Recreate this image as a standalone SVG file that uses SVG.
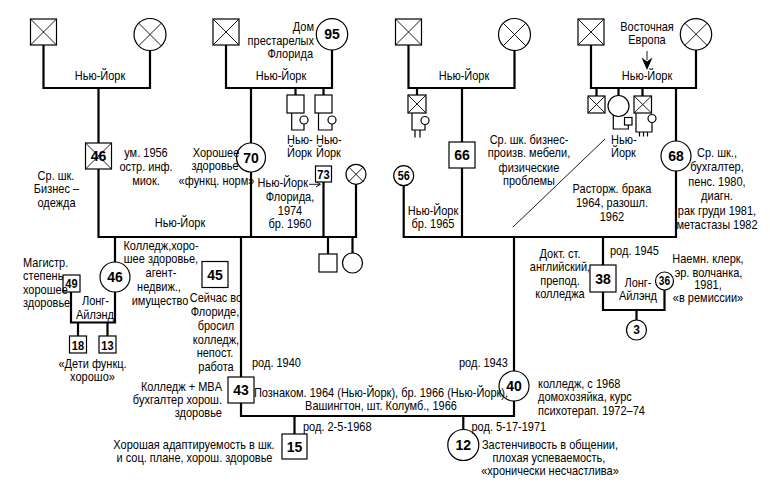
<svg xmlns="http://www.w3.org/2000/svg" width="770" height="483" viewBox="0 0 770 483">
<style>
.l{stroke:#000;stroke-width:2.2;fill:none;stroke-linecap:square}
.f{stroke:#000;stroke-width:1.2;fill:none}
.s{stroke:#000;stroke-width:1.2;fill:#fff}
.x{stroke:#000;stroke-width:0.9;fill:none}
text{font-family:"Liberation Sans",Arial,sans-serif;font-size:12.5px;fill:#000}
.m{text-anchor:middle}
.e{text-anchor:end}
.n{font-weight:bold;font-size:14px;text-anchor:middle}
.ns{font-weight:bold;font-size:13.5px;text-anchor:middle}
.nc{font-weight:bold;font-size:12px;text-anchor:middle}
</style>
<rect width="770" height="483" fill="#fff"/>
<g id="connectors">
<path class="l" d="M43.5,45V88H150V50.5M98.5,88V143M98.5,169V237H356M251,88V143M251,172V237"/>
<path class="l" d="M226,45V88H332V50M295.5,88V95M323.5,88V95M323.5,182V237M356,184.3V237M328,237V254M352.5,237V253"/>
<path class="l" d="M115,237V262M115,292V322.5H71V292M78,322.5V336M107.5,322.5V336"/>
<path class="l" d="M241,237V377M241,403V416H514V401M514,237V371M294.5,416V434M463.3,416V429.5"/>
<path class="l" d="M408.5,45V88H514.5V50.5M417,88V95M462,88V142M462,168V237M403.7,186V237H676M676,88V141M676,171V237"/>
<path class="l" d="M591,45V88H696V50M596.5,88V96M618.5,88V95.5M642.5,88V96M603,237V265M603,292V310H664.5V290M636.5,310V320"/>
<path class="f" d="M291.7,113V130H304V124M318.5,113V130H332V124M412,113V130H425V124.5M415,130V137.5M420,130V137.5M613.3,115V129H628.3V125M636,113V132H652V122.5M639.5,132V136.5M643.5,132V136.5M647.5,132V136.5"/>
<path class="x" d="M513,227L605,139"/>
<path class="x" d="M309,184.3H320M316,181.5L320.5,184.3L316,187"/>
<path class="x" d="M647,51V60"/>
<polygon points="641.5,57.5 647,70 652.5,57.5 647,61.5" fill="#000"/>
</g>
<g id="n-p1f"><rect class="s" x="30.5" y="19" width="26" height="26"/><path class="x" d="M30.5,19L56.5,45M56.5,19L30.5,45"/></g>
<g id="n-p1m"><circle class="s" cx="150" cy="34.5" r="16"/><path class="x" d="M138.7,23.2L161.3,45.8M161.3,23.2L138.7,45.8"/></g>
<g id="n-p2f"><rect class="s" x="213" y="19" width="26" height="26"/><path class="x" d="M213,19L239,45M239,19L213,45"/></g>
<g id="n-95"><circle class="s" cx="332" cy="34.3" r="15.7"/><text class="n" x="332" y="39.3">95</text></g>
<g id="n-p3f"><rect class="s" x="395.5" y="19" width="26" height="26"/><path class="x" d="M395.5,19L421.5,45M421.5,19L395.5,45"/></g>
<g id="n-p3m"><circle class="s" cx="514.5" cy="34.5" r="16"/><path class="x" d="M503.2,23.2L525.8,45.8M525.8,23.2L503.2,45.8"/></g>
<g id="n-p4f"><rect class="s" x="578" y="19" width="26" height="26"/><path class="x" d="M578,19L604,45M604,19L578,45"/></g>
<g id="n-p4m"><circle class="s" cx="696" cy="34.3" r="15.7"/><path class="x" d="M684.9,23.2L707.1,45.4M707.1,23.2L684.9,45.4"/></g>
<g id="n-46f"><rect class="s" x="85.5" y="143" width="26" height="26"/><path class="x" d="M85.5,143L111.5,169M111.5,143L85.5,169"/><text class="n" x="98.5" y="161">46</text></g>
<g id="n-70"><circle class="s" cx="251" cy="157.5" r="14.5"/><text class="n" x="251" y="162.5">70</text></g>
<g id="n-sib1"><rect class="s" x="287" y="95" width="17" height="18"/><circle class="s" cx="304" cy="120" r="4"/></g>
<g id="n-sib2"><rect class="s" x="315" y="95" width="17" height="18"/><circle class="s" cx="332" cy="120" r="4"/></g>
<g id="n-73"><rect class="s" x="315.5" y="166" width="16" height="16"/><text class="ns" transform="translate(323.5,179) scale(0.82,1)">73</text></g>
<g id="n-73w"><circle class="s" cx="356" cy="174.3" r="10"/><path class="x" d="M348.9,167.2L363.1,181.4M363.1,167.2L348.9,181.4"/></g>
<g id="n-sib3"><rect class="s" x="408" y="95" width="18" height="18"/><path class="x" d="M408,95L426,113M426,95L408,113"/><circle class="s" cx="425" cy="120.5" r="4"/></g>
<g id="n-66"><rect class="s" x="449" y="142" width="26" height="26"/><text class="n" x="462" y="160">66</text></g>
<g id="n-56"><circle class="s" cx="403.7" cy="175.7" r="10"/><text class="nc" transform="translate(403.7,180) scale(0.9,1)">56</text></g>
<g id="n-68"><circle class="s" cx="676" cy="156" r="15"/><text class="n" x="676" y="161">68</text></g>
<g id="n-sib4a"><rect class="s" x="588" y="96" width="17" height="17"/><path class="x" d="M588,96L605,113M605,96L588,113"/></g>
<g id="n-sib4b"><circle class="s" cx="618.5" cy="106" r="10.5"/><rect class="s" x="624.5" y="117.5" width="7.5" height="7.5"/></g>
<g id="n-sib4c"><rect class="s" x="634" y="96" width="17.5" height="17"/><path class="x" d="M634,96L651.5,113M651.5,96L634,113"/><circle class="s" cx="652" cy="118.5" r="4"/></g>
<g id="n-46m"><circle class="s" cx="115" cy="277" r="15"/><text class="n" x="115" y="282">46</text></g>
<g id="n-49"><rect class="s" x="63" y="275" width="17" height="17"/><text class="ns" transform="translate(71.5,288) scale(0.82,1)">49</text></g>
<g id="n-45"><rect class="s" x="202" y="261.5" width="26" height="26"/><text class="n" x="215" y="279.5">45</text></g>
<g id="n-43"><rect class="s" x="228" y="377" width="26" height="26"/><text class="n" x="241" y="395">43</text></g>
<g id="n-40"><circle class="s" cx="514" cy="386" r="15"/><text class="n" x="514" y="391">40</text></g>
<g id="n-73s"><rect class="s" x="319" y="254" width="18" height="18"/></g>
<g id="n-73d"><circle class="s" cx="352.5" cy="263" r="10"/></g>
<g id="n-38"><rect class="s" x="590" y="265" width="26" height="27"/><text class="n" x="603" y="283.5">38</text></g>
<g id="n-36"><circle class="s" cx="664.5" cy="281" r="9"/><text class="nc" transform="translate(664.5,285.3) scale(0.85,1)">36</text></g>
<g id="n-18"><rect class="s" x="69.5" y="336" width="17" height="17"/><text class="ns" transform="translate(78,349.5) scale(0.82,1)">18</text></g>
<g id="n-13"><rect class="s" x="99" y="336" width="17" height="17"/><text class="ns" transform="translate(107.5,349.5) scale(0.82,1)">13</text></g>
<g id="n-15"><rect class="s" x="282" y="434" width="25" height="25"/><text class="n" x="294.5" y="451.5">15</text></g>
<g id="n-12"><circle class="s" cx="463.3" cy="445" r="15.5"/><text class="n" x="463.3" y="450">12</text></g>
<g id="n-3"><circle class="s" cx="636.5" cy="330" r="10"/><text class="nc" x="636.5" y="334.3">3</text></g>
<g id="labels" transform="scale(0.88,1)">
<text class="m" x="113.64" y="80">Нью-Йорк</text>
<text class="m" x="319.32" y="80">Нью-Йорк</text>
<text class="e" x="356.82" y="31.5">Дом</text>
<text class="e" x="356.82" y="45">престарелых</text>
<text class="e" x="355.68" y="58.5">Флорида</text>
<text class="m" x="527.27" y="80">Нью-Йорк</text>
<text class="m" x="735.23" y="31">Восточная</text>
<text class="m" x="735.23" y="44">Европа</text>
<text class="m" x="735.23" y="80">Нью-Йорк</text>
<text class="m" x="165.91" y="157">ум. 1956</text>
<text class="m" x="165.91" y="171">остр. инф.</text>
<text class="m" x="165.91" y="185">миок.</text>
<text class="m" x="63.64" y="180">Ср. шк.</text>
<text class="m" x="64.2" y="193">Бизнес –</text>
<text class="m" x="64.2" y="207">одежда</text>
<text class="m" x="245.45" y="157">Хорошее</text>
<text class="m" x="244.32" y="170.5">здоровье</text>
<text class="m" x="246.02" y="185">«функц. норм»</text>
<text class="m" x="204.55" y="227">Нью-Йорк</text>
<text x="326.14" y="144">Нью-</text>
<text x="326.14" y="157.5">Йорк</text>
<text x="359.09" y="144">Нью-</text>
<text x="359.09" y="157.5">Йорк</text>
<text class="e" x="350" y="187">Нью-Йорк</text>
<text class="m" x="329.55" y="201.5">Флорида,</text>
<text class="m" x="329.55" y="215">1974</text>
<text class="m" x="329.55" y="228.5">бр. 1960</text>
<text class="m" x="492.05" y="215">Нью-Йорк</text>
<text class="m" x="492.05" y="228.5">бр. 1965</text>
<text class="m" x="601.14" y="144">Ср. шк. бизнес-</text>
<text class="m" x="601.14" y="157.5">произв. мебели,</text>
<text class="m" x="601.14" y="172">физические</text>
<text class="m" x="601.14" y="185">проблемы</text>
<text x="694.32" y="144">Нью-</text>
<text x="694.32" y="157.5">Йорк</text>
<text class="m" x="695.45" y="193">Расторж. брака</text>
<text class="m" x="695.45" y="207">1964, разошл.</text>
<text class="m" x="695.45" y="221.5">1962</text>
<text class="m" x="814.77" y="157.5">Ср. шк.,</text>
<text class="m" x="814.77" y="171.5">бухгалтер,</text>
<text class="m" x="814.77" y="186">пенс. 1980,</text>
<text class="m" x="814.77" y="200.5">диагн.</text>
<text class="m" x="814.77" y="215">рак груди 1981,</text>
<text class="m" x="814.77" y="229.5">метастазы 1982</text>
<text class="m" x="182.95" y="250">Колледж,хоро-</text>
<text class="m" x="182.95" y="263.5">шее здоровье,</text>
<text class="m" x="182.95" y="277">агент-</text>
<text class="m" x="180.68" y="291">недвиж.,</text>
<text class="m" x="181.82" y="305">имущество</text>
<text x="26.14" y="267">Магистр.</text>
<text x="26.14" y="280.5">степень</text>
<text x="26.14" y="294">хорошее</text>
<text x="26.14" y="307.5">здоровье</text>
<text class="m" x="108.52" y="305.5">Лонг-</text>
<text class="m" x="107.95" y="319">Айлэнд</text>
<text class="m" x="105.11" y="368">«Дети функц.</text>
<text class="m" x="105.11" y="381">хорошо»</text>
<text class="m" x="245.45" y="302.5">Сейчас во</text>
<text class="m" x="244.32" y="316.5">Флориде,</text>
<text class="m" x="245.45" y="330">бросил</text>
<text class="m" x="245.45" y="344">колледж,</text>
<text class="m" x="244.32" y="357.5">непост.</text>
<text class="m" x="245.45" y="371">работа</text>
<text class="e" x="252.27" y="391">Колледж + MBA</text>
<text class="e" x="252.27" y="404">бухгалтер хорош.</text>
<text class="e" x="252.27" y="417">здоровье</text>
<text x="286.36" y="367">род. 1940</text>
<text x="521.59" y="367">род. 1943</text>
<text class="m" x="432.95" y="397">Познаком. 1964 (Нью-Йорк), бр. 1966 (Нью-Йорк),</text>
<text class="m" x="432.95" y="410.5">Вашингтон, шт. Колумб., 1966</text>
<text x="611.36" y="388">колледж, с 1968</text>
<text x="611.36" y="401.5">домохозяйка, курс</text>
<text x="611.36" y="415">психотерап. 1972–74</text>
<text x="344.32" y="431">род. 2-5-1968</text>
<text x="535.8" y="431">род. 5-17-1971</text>
<text class="m" x="220.45" y="449">Хорошая адаптируемость в шк.</text>
<text class="m" x="221.02" y="462.5">и соц. плане, хорош. здоровье</text>
<text class="m" x="625" y="449">Застенчивость в общении,</text>
<text class="m" x="623.86" y="462">плохая успеваемость,</text>
<text class="m" x="625" y="475">«хронически несчастлива»</text>
<text x="693.18" y="255.5">род. 1945</text>
<text class="m" x="636.36" y="258">Докт. ст.</text>
<text class="m" x="636.36" y="271.5">английский,</text>
<text class="m" x="636.36" y="285">препод.</text>
<text class="m" x="636.36" y="298">колледжа</text>
<text class="m" x="725" y="287">Лонг-</text>
<text class="m" x="725" y="300.5">Айлэнд</text>
<text class="m" x="804.55" y="263.5">Наемн. клерк,</text>
<text class="m" x="805.11" y="277">эр. волчанка,</text>
<text class="m" x="804.55" y="289.5">1981,</text>
<text class="m" x="804.55" y="302">«в ремиссии»</text>
</g>
</svg>
